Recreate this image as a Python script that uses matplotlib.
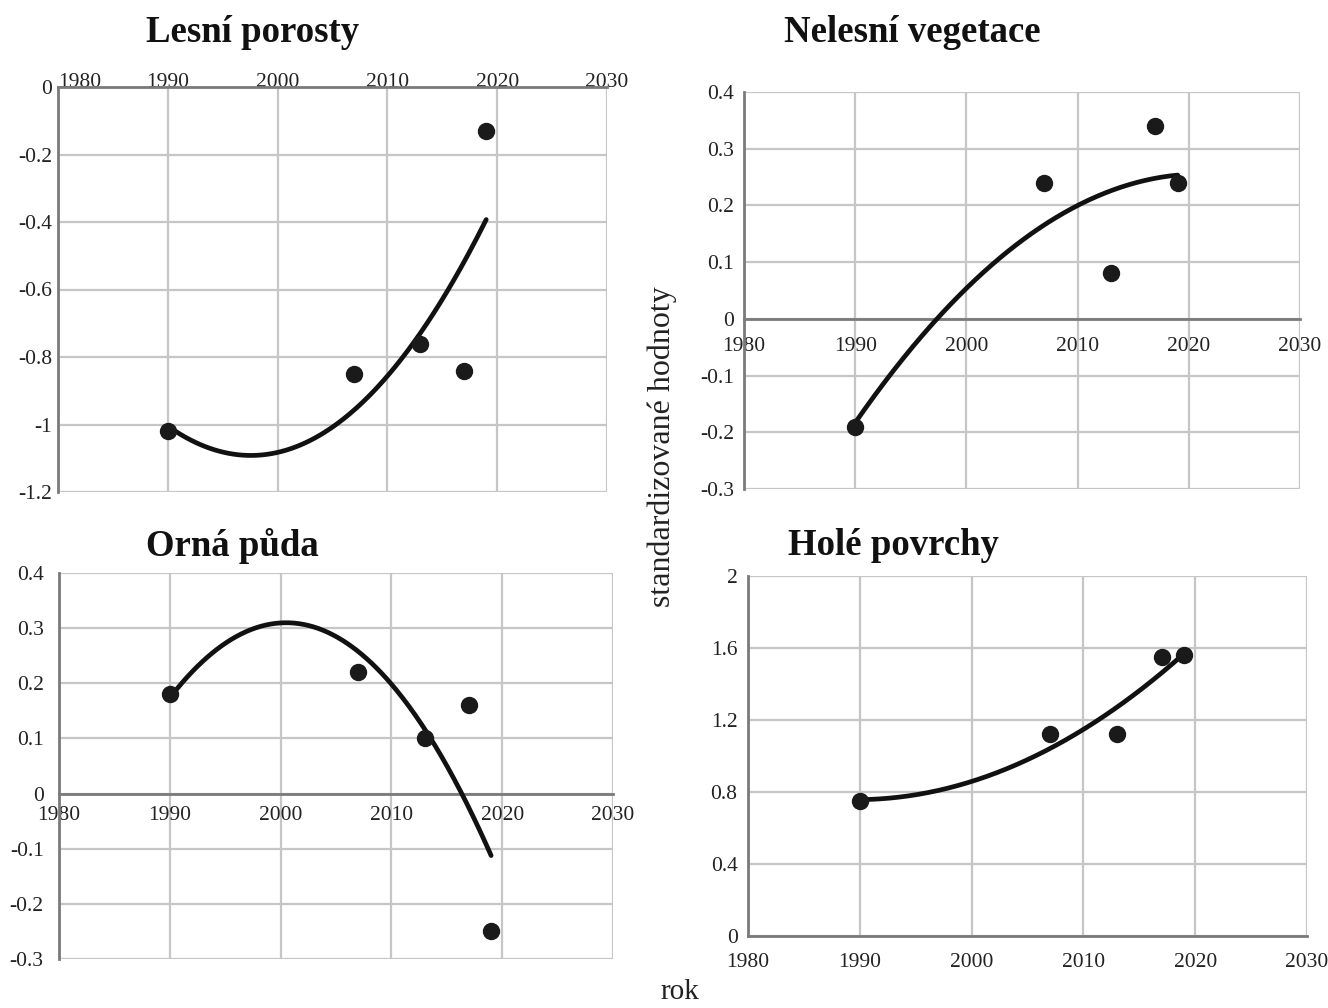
import numpy as np
import matplotlib
matplotlib.use("Agg")
import matplotlib.pyplot as plt
from matplotlib.ticker import FuncFormatter, MultipleLocator

plt.rcParams['font.family'] = ['Liberation Serif', 'DejaVu Serif']

years = [1990, 2007, 2013, 2017, 2019]
lesni = [-1.02, -0.85, -0.76, -0.84, -0.13]
nelesni = [-0.19, 0.24, 0.08, 0.34, 0.24]
orna = [0.18, 0.22, 0.10, 0.16, -0.25]
hole = [0.75, 1.12, 1.12, 1.55, 1.56]

titles = ["Lesní porosty", "Nelesní vegetace", "Orná půda", "Holé povrchy"]
x_ticks = [1980, 1990, 2000, 2010, 2020, 2030]

W, H = 1328, 1008
fig = plt.figure(figsize=(W / 100, H / 100), dpi=100)

def rect(l, r, t, b):
    return [l / W, 1 - b / H, (r - l) / W, (b - t) / H]

# rect, values, ylim, ystep, title pos (x, baseline y), x pad, y pad
specs = [
    (rect(58, 607, 87, 492), lesni, (-1.2, 0), 0.2, (253, 42), -3.5, 4),
    (rect(744, 1300, 92, 489), nelesni, (-0.3, 0.4), 0.1, (912, 42), 13, 7),
    (rect(59, 613, 573, 959), orna, (-0.3, 0.4), 0.1, (232, 556), 9, 11),
    (rect(748, 1307, 576, 936), hole, (0, 2), 0.4, (893, 555), 12.5, 7.5),
]

grid_c = '#c6c6c6'
axis_c = '#7a7a7a'
fmt = FuncFormatter(lambda v, p: f'{round(v, 6):g}')

for i, (r, vals, ylim, ystep, tpos, xpad, ypad) in enumerate(specs):
    ax = fig.add_axes(r)
    ax.set_xlim(1980, 2030)
    ax.set_ylim(*ylim)
    ax.set_xticks(x_ticks)
    ax.yaxis.set_major_locator(MultipleLocator(ystep))
    ax.yaxis.set_major_formatter(fmt)
    ax.grid(True, color=grid_c, lw=1.6, zorder=0)
    ax.set_axisbelow(True)
    for s in ['right', 'top', 'bottom']:
        ax.spines[s].set_visible(False)
    ax.spines['left'].set_color(axis_c)
    ax.spines['left'].set_linewidth(2)
    if i == 0:
        ax.spines['top'].set_visible(True)
        ax.spines['top'].set_color(axis_c)
        ax.spines['top'].set_linewidth(2)
        ax.xaxis.tick_top()
    else:
        ax.spines['bottom'].set_visible(True)
        ax.spines['bottom'].set_position(('data', 0))
        ax.spines['bottom'].set_color(axis_c)
        ax.spines['bottom'].set_linewidth(2)
    ax.tick_params(axis='both', length=0, labelsize=15.5, colors='#222222')
    ax.tick_params(axis='x', pad=xpad)
    ax.tick_params(axis='y', pad=ypad)
    if i == 0:
        fig.canvas.draw()
        ax.get_xticklabels()[0].set_ha('left')
    # trend line (quadratic fit)
    c = np.polyfit(years, vals, 2)
    xx = np.linspace(years[0], years[-1], 200)
    ax.plot(xx, np.polyval(c, xx), color='#111111', lw=3.4, solid_capstyle='round', zorder=3)
    ax.plot(years, vals, 'o', color='#1a1a1a', ms=11.5, zorder=4, clip_on=False)
    fig.text(tpos[0] / W, 1 - tpos[1] / H, titles[i], ha='center', va='baseline',
             fontsize=26.5, fontweight='bold', color='#111111')

fig.text(662 / W, 1 - 447 / H, 'standardizované hodnoty', rotation=90,
         ha='center', va='center', fontsize=23, color='#222222')
fig.text(680 / W, 1 - 999 / H, 'rok', ha='center', va='baseline', fontsize=21, color='#222222')

fig.savefig('out.png', dpi=100)
